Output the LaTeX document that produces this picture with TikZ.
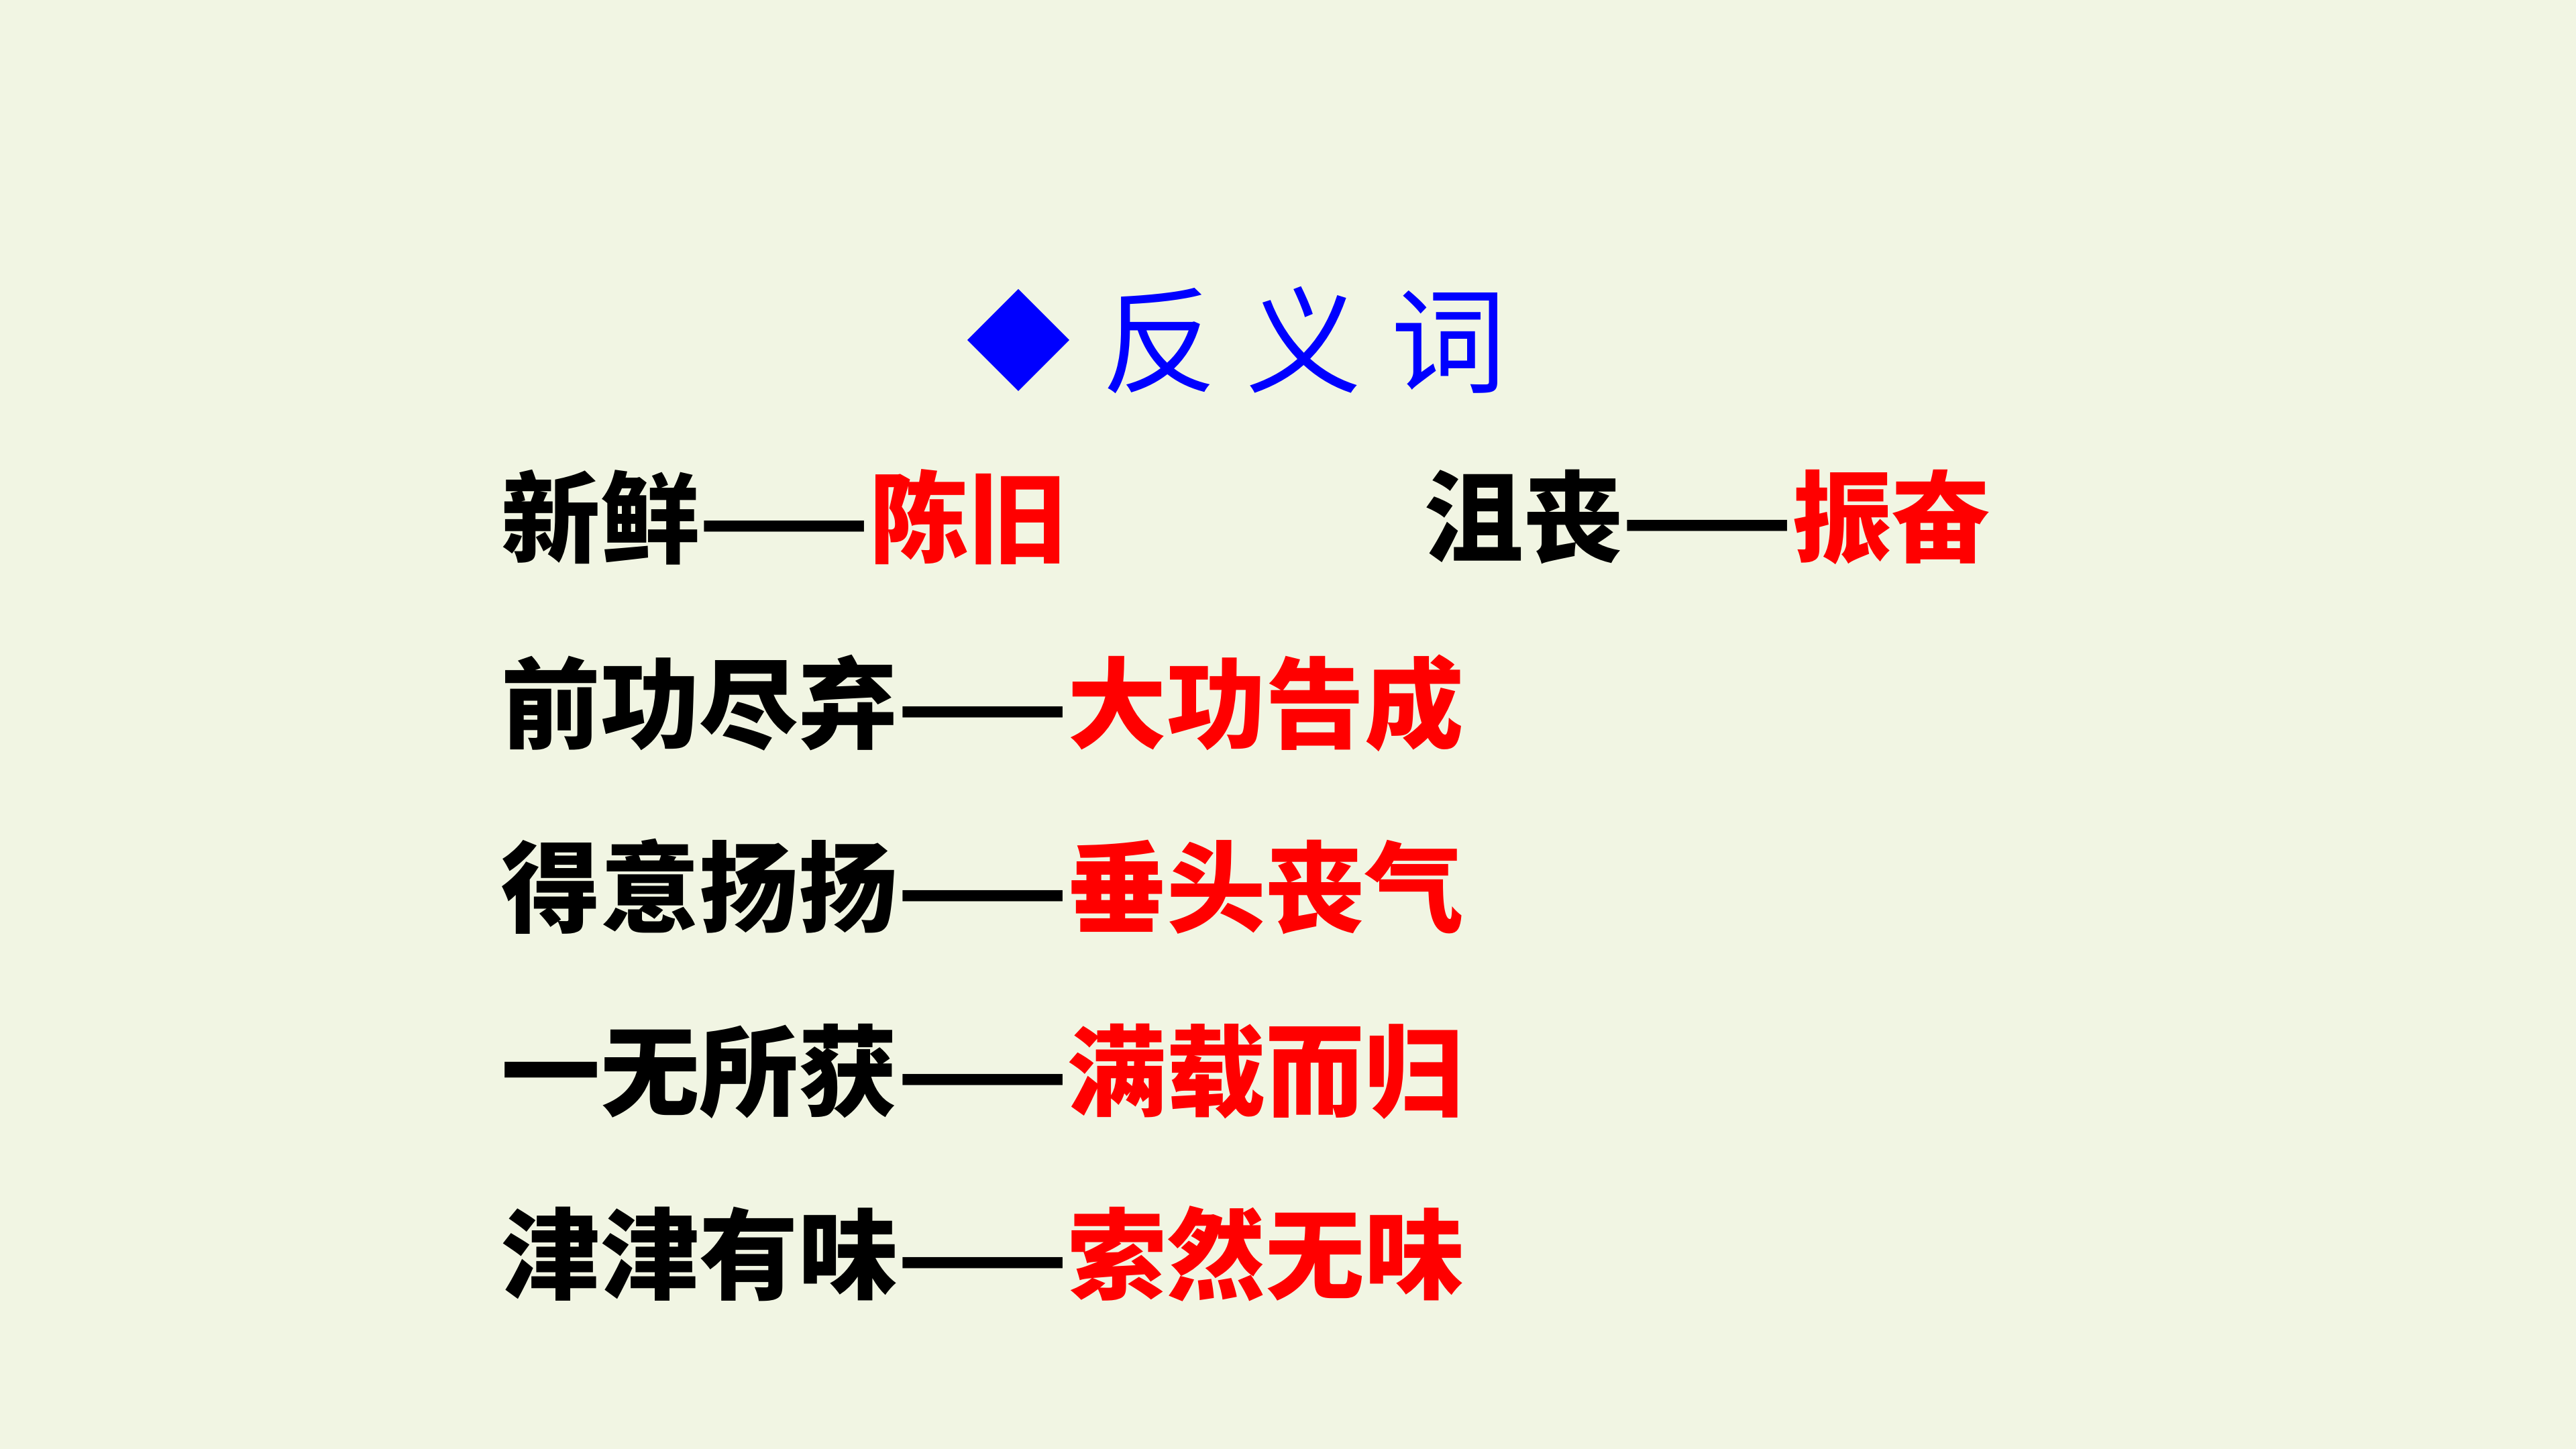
\documentclass[tikz,border=0pt]{standalone}
\usepackage{fontspec}
\newfontfamily\cjk{Noto Sans CJK SC}
\definecolor{bg}{HTML}{F1F5E3}
\begin{document}
\begin{tikzpicture}[x=1cm,y=1cm,
  row/.style={anchor=west,inner sep=0pt,font=\cjk\fontsize{42}{50}\selectfont\bfseries},
  ttl/.style={anchor=west,inner sep=0pt,text=blue,font=\cjk\fontsize{49}{58}\selectfont}]
\fill[bg] (0,0) rectangle (38.4,21.6);
\useasboundingbox (0,0) rectangle (38.4,21.6);
\fill[blue] (14.42,16.53) -- (15.18,17.29) -- (15.94,16.53) -- (15.18,15.77) -- cycle;
\node[ttl] (t) at (16.42,16.53) {反\hspace{0.25em}义\hspace{0.25em}词};
\node[row] (r1) at (7.47,13.89) {新鲜——\textcolor{red}{陈旧}};
\node[row] (r2) at (21.23,13.89) {沮丧——\textcolor{red}{振奋}};
\node[row] (r3) at (7.47,11.12) {前功尽弃——\textcolor{red}{大功告成}};
\node[row] (r4) at (7.47,8.38) {得意扬扬——\textcolor{red}{垂头丧气}};
\node[row] (r5) at (7.47,5.63) {一无所获——\textcolor{red}{满载而归}};
\node[row] (r6) at (7.47,2.91) {津津有味——\textcolor{red}{索然无味}};
\end{tikzpicture}
\end{document}
